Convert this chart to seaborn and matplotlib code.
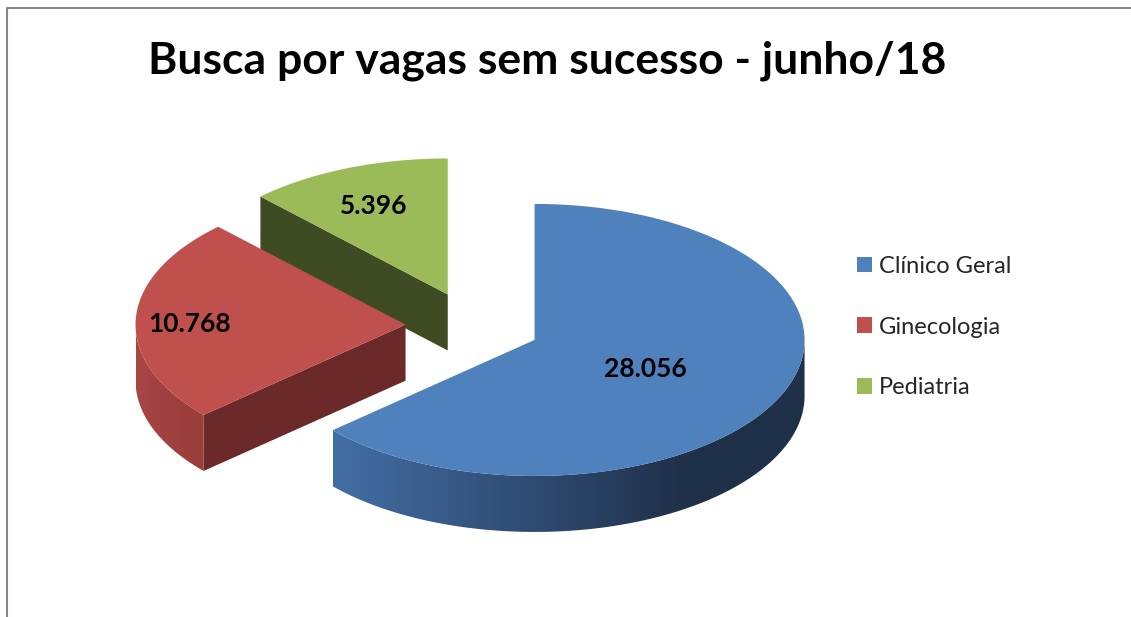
"""
Busca por vagas sem sucesso - junho/18
3D exploded pie (Excel style) drawn with matplotlib patches on a seaborn theme
"""

import numpy as np
import matplotlib.pyplot as plt
import seaborn as sns
from matplotlib.patches import Polygon, Patch
from matplotlib.colors import LinearSegmentedColormap

# Data
categories = ["Clínico Geral", "Ginecologia", "Pediatria"]
values = [28056, 10768, 5396]

# Colours (top surface, outer wall light/dark, cut face)
top_colors = ["#4F81BD", "#C0504D", "#9BBB59"]
wall_light = ["#436EA5", "#A84644", "#86A24C"]
wall_dark = ["#1F3049", "#9A3E3C", "#6E8640"]
face_colors = ["#1F3049", "#6B2A29", "#3F4B22"]
label_radius = [0.45, 0.80, 0.73]

title = "Busca por vagas sem sucesso - junho/18"

# Geometry of the pie in pixel units
W, H = 1131, 617
CX, CY = 473, 326
RX, RY = 270, 136
DEPTH = 56
EXPLODE = 0.25
START = 90

sns.set_style("white")
plt.rcParams['font.family'] = ['Lato', 'DejaVu Sans']


def rim(theta, ox, oy, dz=0.0):
    t = np.radians(theta)
    return np.column_stack([ox + RX * np.cos(t), oy - RY * np.sin(t) + dz])


def gradient_fill(ax, pts, c_light, c_dark):
    """Fill a polygon with a left-to-right gradient (clipped image)"""
    poly = Polygon(pts, closed=True, facecolor="none", edgecolor="none")
    ax.add_patch(poly)
    x0, x1 = pts[:, 0].min(), pts[:, 0].max()
    y0, y1 = pts[:, 1].min(), pts[:, 1].max()
    cmap = LinearSegmentedColormap.from_list("g", [(0, c_light), (0.75, c_dark), (1, c_dark)])
    grad = np.linspace(0, 1, 256)[None, :]
    im = ax.imshow(grad, cmap=cmap, extent=(x0, x1, y1, y0), aspect="auto",
                   interpolation="bilinear", zorder=poly.get_zorder())
    im.set_clip_path(poly)


fig = plt.figure(figsize=(W / 100, H / 100), dpi=100)
ax = fig.add_axes([0, 0, 1, 1])
ax.set_xlim(0, W)
ax.set_ylim(H, 0)
ax.axis("off")

total = sum(values)
spans = []
hi = START
for v in values:
    lo = hi - 360 * v / total
    spans.append((lo, hi))
    hi = lo

# back to front: last slice first
for i in reversed(range(len(values))):
    lo, hi = spans[i]
    mid = (lo + hi) / 2
    ox = CX + EXPLODE * RX * np.cos(np.radians(mid))
    oy = CY - EXPLODE * RY * np.sin(np.radians(mid))
    apex = np.array([[ox, oy]])

    # cut faces
    for ang, visible in ((lo, np.cos(np.radians(lo)) > 1e-6), (hi, np.cos(np.radians(hi)) < -1e-6)):
        if visible:
            r = rim(np.array([ang]), ox, oy)
            pts = np.vstack([apex, r, r + [0, DEPTH], apex + [0, DEPTH]])
            ax.add_patch(Polygon(pts, closed=True, facecolor=face_colors[i], edgecolor="none"))

    # outer wall (front half only)
    th = np.linspace(lo, hi, 400)
    th = th[np.sin(np.radians(th)) <= 0]
    if len(th) > 1:
        top = rim(th, ox, oy)
        bot = rim(th, ox, oy, DEPTH)
        gradient_fill(ax, np.vstack([top, bot[::-1]]), wall_light[i], wall_dark[i])

    # top surface
    arc = rim(np.linspace(hi, lo, 400), ox, oy)
    ax.add_patch(Polygon(np.vstack([apex, arc]), closed=True,
                         facecolor=top_colors[i], edgecolor="none"))

    # value label
    lr = label_radius[i]
    lx = ox + lr * RX * np.cos(np.radians(mid))
    ly = oy - lr * RY * np.sin(np.radians(mid))
    ax.text(lx, ly + 4, f"{values[i]:,}".replace(",", "."), ha="center", va="center",
            fontsize=19, fontweight="bold", color="black")

# chart frame
ax.plot([7, 7, W], [H, 8, 8], color="#868686", lw=1.5, solid_capstyle="butt")

# title
ax.text(148, 61, title, ha="left", va="center", fontsize=32, fontweight="bold", color="black")

# legend
handles = [Patch(facecolor=c, edgecolor="none") for c in top_colors]
ax.legend(handles, categories, loc="center left", bbox_to_anchor=(857 / W, 1 - 327 / H),
          frameon=False, fontsize=17, handlelength=0.64, handleheight=0.64,
          handletextpad=0.3, labelspacing=1.68, borderpad=0, borderaxespad=0)

plt.savefig("out.png", dpi=100)
plt.close()
